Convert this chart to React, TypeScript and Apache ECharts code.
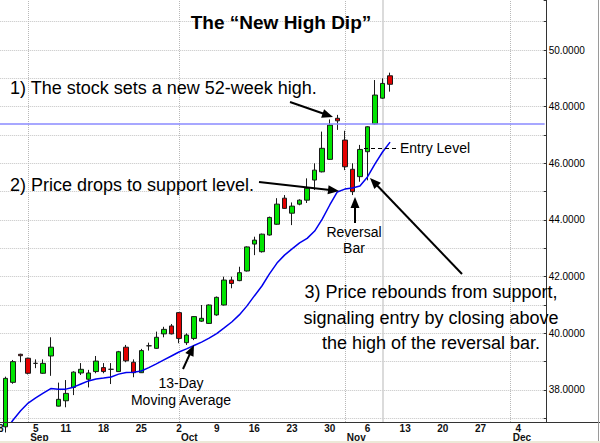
import React, { useEffect, useRef } from "react";
import * as echarts from "echarts";

const FONT = '"Liberation Sans", Arial, Helvetica, sans-serif';

// trading days (past + projected future weekdays)
const dates = [
  "2006-08-28", "2006-08-29", "2006-08-30", "2006-08-31", "2006-09-01",
  "2006-09-05", "2006-09-06", "2006-09-07", "2006-09-08",
  "2006-09-11", "2006-09-12", "2006-09-13", "2006-09-14", "2006-09-15",
  "2006-09-18", "2006-09-19", "2006-09-20", "2006-09-21", "2006-09-22",
  "2006-09-25", "2006-09-26", "2006-09-27", "2006-09-28", "2006-09-29",
  "2006-10-02", "2006-10-03", "2006-10-04", "2006-10-05", "2006-10-06",
  "2006-10-09", "2006-10-10", "2006-10-11", "2006-10-12", "2006-10-13",
  "2006-10-16", "2006-10-17", "2006-10-18", "2006-10-19", "2006-10-20",
  "2006-10-23", "2006-10-24", "2006-10-25", "2006-10-26", "2006-10-27",
  "2006-10-30", "2006-10-31", "2006-11-01", "2006-11-02", "2006-11-03",
  "2006-11-06", "2006-11-07", "2006-11-08", "2006-11-09", "2006-11-10",
  "2006-11-13", "2006-11-14", "2006-11-15", "2006-11-16", "2006-11-17",
  "2006-11-20", "2006-11-21", "2006-11-22", "2006-11-23", "2006-11-24",
  "2006-11-27", "2006-11-28", "2006-11-29", "2006-11-30", "2006-12-01",
  "2006-12-04", "2006-12-05", "2006-12-06", "2006-12-07",
];

const dayLabelDates = [
  "2006-08-28", "2006-09-05", "2006-09-11", "2006-09-18", "2006-09-25",
  "2006-10-02", "2006-10-09", "2006-10-16", "2006-10-23", "2006-10-30",
  "2006-11-06", "2006-11-13", "2006-11-20", "2006-11-27", "2006-12-04",
];
const monthStartDates = ["2006-09-01", "2006-10-02", "2006-11-01", "2006-12-01"];
const monthNames = ["Sep", "Oct", "Nov", "Dec"];
const markerDate = "2006-11-08";

const opens = [null, 36.7, 38.27, 39.26, 39.12, 38.94, 38.59, 39.2, 37.43, 37.62, 38.09, 38.6, 38.38, 38.65, 38.79, 38.73, 38.65, 39.51, 38.98, 38.61, 39.56, 39.47, 39.98, 40.26, 40.73, 39.67, 39.82, 40.43, 40.35, 40.65, 41.0, 41.88, 41.86, 42.2, 43.15, 42.88, 43.47, 43.85, 44.77, 44.24, 44.56, 44.7, 45.41, 45.7, 46.14, 47.59, 46.82, 45.79, 45.53, 46.41, 47.39, 48.3, 49.09];
const closes = [null, 38.41, 39.0, 39.21, 38.59, 38.94, 38.94, 39.51, 37.67, 37.88, 38.63, 38.73, 38.6, 39.02, 38.65, 38.73, 39.35, 39.03, 38.61, 39.39, 39.56, 39.86, 40.14, 39.98, 39.82, 39.94, 40.59, 40.53, 41.0, 41.27, 41.88, 41.76, 42.14, 43.05, 43.29, 43.5, 44.09, 44.56, 44.41, 44.49, 44.7, 45.12, 45.76, 46.53, 47.35, 47.5, 45.88, 45.0, 46.49, 47.29, 48.41, 48.82, 48.79];
const lows = [null, 36.5, 38.22, 38.98, 38.55, 38.77, 38.57, 38.5, 37.42, 37.39, 37.82, 38.53, 38.09, 38.59, 38.59, 38.21, 38.64, 38.98, 38.45, 38.6, 39.39, 39.45, 39.86, 39.96, 39.65, 39.59, 39.76, 40.4, 40.33, 40.62, 40.98, 41.59, 41.84, 42.18, 42.76, 42.85, 43.45, 43.83, 44.39, 43.82, 44.52, 44.6, 45.06, 45.68, 46.12, 47.18, 45.76, 44.88, 45.35, 45.4, 47.37, 48.28, 48.53];
const highs = [null, 38.47, 39.06, 39.28, 39.14, 39.08, 39.08, 39.86, 38.26, 38.35, 38.66, 38.95, 38.71, 39.2, 38.95, 38.95, 39.38, 39.59, 39.08, 39.45, 39.67, 40.06, 40.23, 40.33, 40.75, 40.0, 40.6, 41.0, 41.02, 41.3, 42.0, 42.0, 42.35, 43.07, 43.41, 43.52, 44.12, 44.77, 44.88, 44.62, 44.73, 45.47, 46.0, 47.12, 47.55, 47.71, 47.15, 46.0, 46.65, 47.31, 48.94, 49.0, 49.2];
const ma13 = [null, 36.57, 36.94, 37.27, 37.54, 37.72, 37.89, 38.05, 38.03, 38.03, 38.1, 38.21, 38.32, 38.39, 38.42, 38.46, 38.56, 38.62, 38.63, 38.67, 38.79, 38.92, 39.06, 39.2, 39.34, 39.45, 39.57, 39.69, 39.83, 39.99, 40.19, 40.4, 40.65, 40.96, 41.32, 41.67, 42.1, 42.48, 42.76, 42.98, 43.19, 43.35, 43.61, 44.03, 44.53, 44.99, 45.09, 45.13, 45.2, 45.52, 45.98, 46.4, 46.74811];

const highLevel = 47.41;
const lastClose = 48.79;
const lastMA = 46.74811;

const yMin = 36.87;
const yMax = 51.765;

function arrow(x1: number, y1: number, x2: number, y2: number) {
  const a = Math.atan2(y2 - y1, x2 - x1);
  const L = 11;
  const W = 4.5;
  const bx = x2 - L * Math.cos(a);
  const by = y2 - L * Math.sin(a);
  return [
    {
      type: "line",
      z: 100,
      shape: { x1, y1, x2: bx + 2 * Math.cos(a), y2: by + 2 * Math.sin(a) },
      style: { stroke: "#000", lineWidth: 2 },
    },
    {
      type: "polygon",
      z: 100,
      shape: {
        points: [
          [x2, y2],
          [bx + W * Math.sin(a), by - W * Math.cos(a)],
          [bx - W * Math.sin(a), by + W * Math.cos(a)],
        ],
      },
      style: { fill: "#000" },
    },
  ];
}

function txt(text: string, x: number, y: number, size: number, align = "left", lineHeight?: number, weight = "normal") {
  return {
    type: "text",
    z: 100,
    x,
    y,
    style: {
      text,
      fontSize: size,
      fontFamily: FONT,
      fontWeight: weight,
      fill: "#000",
      align,
      verticalAlign: "middle",
      lineHeight: lineHeight || size * 1.2,
    },
  };
}

export default function App() {
  const ref = useRef<HTMLDivElement>(null);
  useEffect(() => {
    const chart = echarts.init(ref.current as HTMLDivElement, null, { renderer: "svg" });
    const candleData = dates.map((d, i) =>
      opens[i] == null || i >= opens.length ? "-" : [opens[i], closes[i], lows[i], highs[i]]
    );
    const maData = dates.map((d, i) => (i < ma13.length && ma13[i] != null ? ma13[i] : "-"));

    const boxLabel = (text: string, bg: string, padRight: number) => ({
      show: true,
      position: "end",
      distance: 3,
      formatter: text,
      color: "#fff",
      backgroundColor: bg,
      fontSize: 10,
      fontWeight: "bold",
      fontFamily: FONT,
      padding: [1, padRight, 0, 1],
    });

    const option: any = {
      animation: false,
      backgroundColor: "#fff",
      grid: {
        left: -5.77,
        right: 55.35,
        top: 0,
        bottom: 21,
        containLabel: false,
        outerBoundsMode: "none",
      },
      xAxis: [
        {
          type: "category",
          data: dates,
          boundaryGap: true,
          axisLine: { show: true, lineStyle: { color: "#333", width: 1 } },
          axisTick: { show: false },
          splitLine: { show: false },
          axisLabel: {
            interval: (i: number, v: string) => dayLabelDates.indexOf(v) >= 0,
            formatter: (v: string) => String(Number(v.slice(8))),
            fontSize: 10,
            lineHeight: 8,
            fontWeight: "bold",
            fontFamily: FONT,
            color: "#111",
            margin: 2,
            hideOverlap: false,
          },
        },
        {
          type: "category",
          data: dates,
          position: "bottom",
          offset: 10,
          boundaryGap: true,
          axisLine: { show: false },
          axisTick: { show: false },
          splitLine: { show: false },
          axisLabel: {
            interval: (i: number, v: string) => monthStartDates.indexOf(v) >= 0,
            formatter: (v: string) => monthNames[monthStartDates.indexOf(v)] || "",
            align: "left",
            padding: [0, 0, 0, 2],
            fontSize: 10,
            lineHeight: 8,
            fontWeight: "bold",
            fontFamily: FONT,
            color: "#111",
            margin: 1,
          },
        },
      ],
      yAxis: {
        type: "value",
        position: "right",
        offset: 2,
        min: yMin,
        max: yMax,
        splitNumber: 15,
        minInterval: 1,
        maxInterval: 1,
        axisLine: { show: true, lineStyle: { color: "#333", width: 1 } },
        axisTick: { show: true, inside: true, length: 3, lineStyle: { color: "#333" } },
        axisLabel: {
          margin: 2,
          fontSize: 10,
          fontFamily: FONT,
          color: "#000",
          formatter: (v: number) => {
            const r = Math.round(v);
            return Math.abs(v - r) < 1e-6 && r % 2 === 0 ? r.toFixed(4) : "";
          },
        },
        splitLine: {
          show: true,
          showMinLine: false,
          showMaxLine: false,
          lineStyle: { color: "#c4c4c4", type: "dotted", width: 1 },
        },
      },
      series: [
        {
          type: "candlestick",
          data: candleData,
          barWidth: 5,
          z: 2,
          itemStyle: {
            color: "#00e400",
            color0: "#e40000",
            borderColor: "#1a1a1a",
            borderColor0: "#1a1a1a",
            borderWidth: 1,
          },
          markLine: {
            silent: true,
            symbol: "none",
            z: 1,
            label: { show: false },
            lineStyle: { color: "#b8b8b8", type: "dotted", width: 1 },
            data: [
              ...monthStartDates.map((d) => ({ xAxis: d })),
              { xAxis: markerDate, lineStyle: { color: "#cfcfcf", type: "solid", width: 1.5 } },
            ],
          },
        },
        {
          type: "line",
          data: maData,
          symbol: "none",
          z: 3,
          lineStyle: { color: "#0000ee", width: 1.5 },
          markLine: {
            silent: true,
            symbol: "none",
            data: [
              {
                yAxis: highLevel,
                lineStyle: { color: "#8a8aff", width: 1.5, type: "solid" },
                label: { show: false },
              },
              {
                yAxis: lastClose,
                lineStyle: { opacity: 0 },
                label: boxLabel(lastClose.toFixed(4), "#000", 12),
              },
              {
                yAxis: lastMA,
                lineStyle: { opacity: 0 },
                label: boxLabel(lastMA.toFixed(5), "#0000ff", 6),
              },
            ],
          },
        },
      ],
      graphic: [
        { type: "line", z: 90, shape: { x1: 0, y1: 422.5, x2: 600, y2: 422.5 }, style: { stroke: "#333", lineWidth: 1 } },
        { type: "line", z: 90, shape: { x1: 598.5, y1: 0, x2: 598.5, y2: 443 }, style: { stroke: "#9a9a9a", lineWidth: 1 } },
        { type: "rect", z: 90, shape: { x: 0, y: 441, width: 600, height: 2 }, style: { fill: "#ece9d8" } },
        txt("The \u201cNew High Dip\u201d", 281, 22, 19, "center", 22, "bold"),
        txt("1) The stock sets a new 52-week high.", 10, 88, 18),
        ...arrow(290, 102, 333, 117),
        txt("2) Price drops to support level.", 10, 185, 18),
        ...arrow(259, 182, 339, 191),
        txt("Reversal\nBar", 354, 240, 14, "center", 16),
        ...arrow(355, 223, 355, 197),
        {
          type: "line",
          z: 100,
          shape: { x1: 364, y1: 148.5, x2: 397, y2: 148.5 },
          style: { stroke: "#000", lineWidth: 1, lineDash: [4, 3] },
        },
        txt("Entry Level", 400, 148, 14),
        ...arrow(462, 274, 370, 178),
        txt("3) Price rebounds from support,\nsignaling entry by closing above\nthe high of the reversal bar.", 431, 317.5, 18, "center", 25.5),
        txt("13-Day\nMoving Average", 181, 391.5, 14, "center", 17),
        ...arrow(183, 369, 194, 345),
      ],
    };
    chart.setOption(option);
    return () => chart.dispose();
  }, []);
  return (
    <div
      ref={ref}
      style={{ position: "absolute", left: 0, top: 0, width: 600, height: 443, background: "#fff" }}
    />
  );
}
